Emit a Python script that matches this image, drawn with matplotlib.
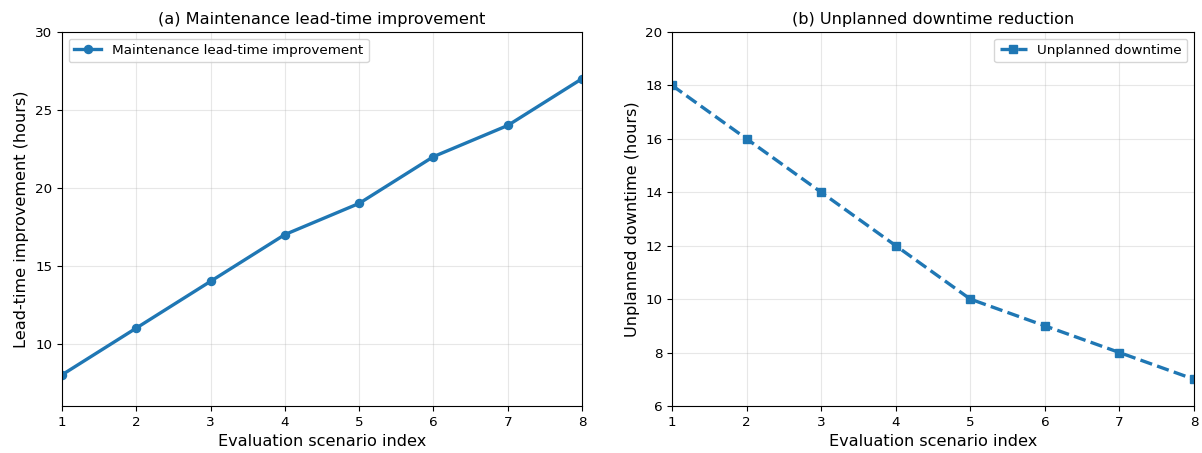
import numpy as np
import matplotlib
matplotlib.use("Agg")
import matplotlib.pyplot as plt

# scenario index on x for both panels
scenarios = [1, 2, 3, 4, 5, 6, 7, 8]
lead_time_gain = [8, 11, 14, 17, 19, 22, 24, 27]
downtime = [18, 16, 14, 12, 10, 9, 8, 7]

color = "#1f77b4"
fs_big = 11.6
fs_small = 9.7

fig = plt.figure(figsize=(12.02, 4.53), dpi=100)
ax1 = fig.add_axes([0.0516, 0.1038, 0.4326, 0.8256])
ax2 = fig.add_axes([0.5591, 0.1038, 0.4343, 0.8256])

# (a) lead-time improvement
ax1.plot(scenarios, lead_time_gain, marker="o", color=color, linewidth=2.4,
         markersize=5.8, label="Maintenance lead-time improvement")
ax1.set_xlim(1, 8)
ax1.set_ylim(6, 30)
ax1.set_yticks([10, 15, 20, 25, 30])
ax1.set_title("(a) Maintenance lead-time improvement", fontsize=fs_big)
ax1.set_xlabel("Evaluation scenario index", fontsize=fs_big)
ax1.set_ylabel("Lead-time improvement (hours)", fontsize=fs_big)
ax1.tick_params(labelsize=fs_small)
ax1.grid(True, alpha=0.3)
ax1.legend(loc="upper left", fontsize=fs_small)

# (b) unplanned downtime
ax2.plot(scenarios, downtime, marker="s", linestyle="--", color=color,
         linewidth=2.4, markersize=5.8, label="Unplanned downtime")
ax2.set_xlim(1, 8)
ax2.set_ylim(6, 20)
ax2.set_yticks(np.arange(6, 21, 2))
ax2.set_title("(b) Unplanned downtime reduction", fontsize=fs_big)
ax2.set_xlabel("Evaluation scenario index", fontsize=fs_big)
ax2.set_ylabel("Unplanned downtime (hours)", fontsize=fs_big)
ax2.tick_params(labelsize=fs_small)
ax2.grid(True, alpha=0.3)
ax2.legend(loc="upper right", fontsize=fs_small)

fig.savefig("out.png", dpi=100)
